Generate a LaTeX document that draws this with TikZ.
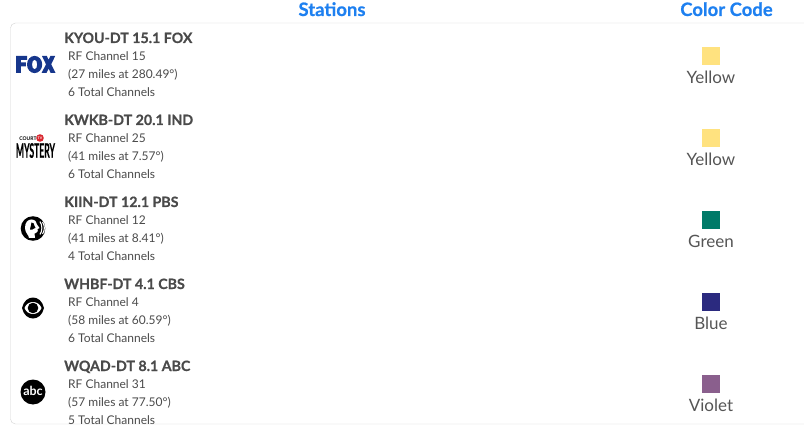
\documentclass[tikz,border=0pt]{standalone}
\usepackage{fontspec}
\setmainfont{Lato}
\newfontfamily\semiheavyfont{Lato}[BoldFeatures={FakeBold=0.6}]
\usetikzlibrary{positioning}
\definecolor{headblue}{HTML}{1E80F0}
\definecolor{textgray}{HTML}{4A4A4A}
\definecolor{namegray}{HTML}{555555}
\definecolor{boxgray}{HTML}{D3D3D3}
\definecolor{foxblue}{HTML}{16368C}
\definecolor{courtred}{HTML}{D8262E}
\definecolor{yellowcode}{HTML}{FFE27F}
\definecolor{greencode}{HTML}{007A68}
\definecolor{bluecode}{HTML}{2B2A7F}
\definecolor{violetcode}{HTML}{8A5F8D}

\begin{document}
\begin{tikzpicture}[x=1pt, y=-1pt,
    head/.style={anchor=base, inner sep=0pt, text=headblue, font=\semiheavyfont\bfseries\fontsize{18.5}{20}\selectfont},
    title/.style={anchor=base west, inner sep=0pt, text=textgray, font=\semiheavyfont\bfseries\fontsize{14.2}{16}\selectfont},
    info/.style={anchor=base west, inner sep=0pt, text=textgray, font=\fontsize{12}{14}\selectfont},
    swatch/.style={minimum size=17.5pt, inner sep=0pt, fill=#1},
    colname/.style={anchor=base, inner sep=0pt, text=namegray, font=\fontsize{17}{19}\selectfont}]
    \useasboundingbox (0,0) rectangle (804,433);
    \draw[boxgray, rounded corners=5pt] (10.5,23) rectangle (812,424);
    \node[head] (stations) at (332,16) {Stations};
    \node[head] (colorcode) at (726.5,16) {Color Code};
    % one row per station
    \foreach \call/\rf/\dist/\tot/\swc/\swn [count=\i from 0] in {
        KYOU-DT 15.1 FOX/15/27 miles at 280.49°/6/yellowcode/Yellow,
        KWKB-DT 20.1 IND/25/41 miles at 7.57°/6/yellowcode/Yellow,
        KIIN-DT 12.1 PBS/12/41 miles at 8.41°/4/greencode/Green,
        WHBF-DT 4.1 CBS/4/58 miles at 60.59°/6/bluecode/Blue,
        WQAD-DT 8.1 ABC/31/57 miles at 77.50°/5/violetcode/Violet}
    {
        \pgfmathsetmacro{\ry}{43+82*\i}
        \node[title] (call\i) at (64,\ry) {\call};
        \node[info] (rf\i) at (68,\ry+17.5) {RF Channel \rf};
        \node[info] (dist\i) at (68,\ry+35.5) {(\dist)};
        \node[info] (tot\i) at (68,\ry+53.5) {\tot\ Total Channels};
        \node[swatch=\swc] (sw\i) at (711,\ry+13) {};
        \node[colname] (name\i) at (711,\ry+40.5) {\swn};
    }
    % logos
    \fill[foxblue] (16,56) -- (27,56) -- (27,60) -- (20.8,60) -- (20.8,62.5) -- (25.8,62.5)
        -- (25.8,66.3) -- (20.8,66.3) -- (20.8,73) -- (16,73) -- cycle;
    \fill[foxblue, even odd rule] (34.6,64.5) ellipse (7.6 and 8.6) (34.6,64.5) ellipse (2.6 and 4.8);
    \fill[foxblue] (42,56) -- (46.8,56) -- (48.6,59.8) -- (50.4,56) -- (55.2,56) -- (51.2,64.3)
        -- (55.5,73) -- (50.7,73) -- (48.6,68.6) -- (46.4,73) -- (41.6,73) -- (46,64.3) -- cycle;
    \node[inner sep=0pt, xscale=0.43, font=\semiheavyfont\bfseries\fontsize{20}{20}\selectfont] (mystery) at (35.5,150.5) {MYSTERY};
    \node[inner sep=0pt, font=\bfseries\fontsize{5}{5}\selectfont] (court) at (28,139) {COURT};
    \fill[courtred] (40,138) circle (3.8);
    \node[inner sep=0pt, text=white, font=\bfseries\fontsize{3.5}{4}\selectfont] (tv) at (40,138) {TV};
    \fill (33,228.5) circle (12.3);
    \fill[white] (29,238) .. controls (29,235) and (25,233) .. (25,228)
        .. controls (25,222) and (28,219.5) .. (31.5,219.5)
        .. controls (35,219.5) and (37,222) .. (37,224.5) -- (39.5,228)
        -- (37.5,229) -- (37.8,231) .. controls (37,233) and (35.5,233) .. (34.5,233.5)
        -- (35,238) -- cycle;
    \fill (31.5,222.5) .. controls (33.5,222.5) and (34.5,224) .. (34.5,226)
        -- (35.5,228) -- (34,228.5) .. controls (33,230) and (31,230) .. (30,229.5) -- cycle;
    \draw[white, line width=1.1pt] (40,221.5) .. controls (42.5,225) and (42.5,231) .. (40,234.5);
    \draw[white, line width=1.1pt] (42.5,222) .. controls (45,225.5) and (45,230.5) .. (42.5,234);
    \fill (22,308) .. controls (25,294) and (41,294) .. (44,308)
        .. controls (41,322) and (25,322) .. (22,308);
    \fill[white] (24.5,308) .. controls (27.5,300) and (38.5,300) .. (41.5,308)
        .. controls (38.5,316) and (27.5,316) .. (24.5,308);
    \fill (33,308) circle (5.3);
    \fill (33,392) circle (12.5);
    \node[inner sep=0pt, text=white, font=\bfseries\fontsize{12.5}{12}\selectfont] (abc) at (33,391) {abc};
\end{tikzpicture}
\end{document}
